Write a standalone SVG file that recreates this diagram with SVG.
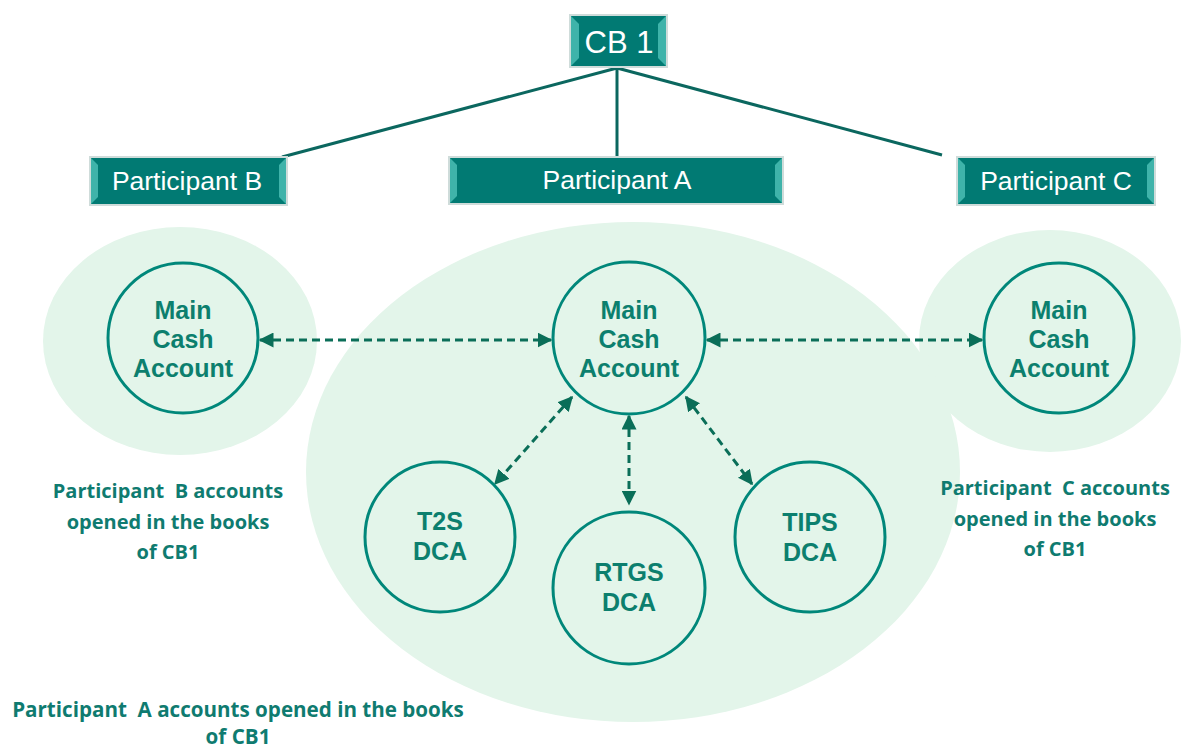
<svg xmlns="http://www.w3.org/2000/svg" width="1184" height="749" viewBox="0 0 1184 749">
<style>
.box{fill:#017a73;stroke:#cfdcda;stroke-width:2}
.bev{fill:#3fb3aa}
.btxt{font-family:"Liberation Sans",Arial,sans-serif;font-size:26.5px;fill:#ffffff;text-anchor:middle}
.ell{fill:#e3f5ea}
.circ{fill:none;stroke:#00877a;stroke-width:3}
.ctxt{font-family:"Liberation Sans",Arial,sans-serif;font-size:25px;font-weight:bold;fill:#0c7f6e;text-anchor:middle}
.cap{font-family:"Open Sans",Lato,sans-serif;font-size:20px;font-weight:bold;fill:#0f7b70;text-anchor:middle}
.tree{stroke:#0b675f;stroke-width:3;fill:none}
.dash{stroke:#0a6e58;stroke-width:3;stroke-dasharray:8 5;fill:none;marker-start:url(#ah);marker-end:url(#ah)}
</style>
<defs>
<marker id="ah" viewBox="0 0 10 10" refX="9" refY="5" markerWidth="5" markerHeight="5" orient="auto-start-reverse" markerUnits="strokeWidth">
<path d="M0,0 L10,5 L0,10 Z" fill="#0a6e58"/>
</marker>
</defs>
<rect width="1184" height="749" fill="#ffffff"/>
<g id="ellipses">
<ellipse class="ell" cx="180" cy="341" rx="137" ry="114"/>
<ellipse class="ell" cx="1050" cy="341" rx="131" ry="111"/>
<ellipse class="ell" cx="633" cy="472" rx="327" ry="250"/>
</g>
<g id="connectors">
<line class="tree" x1="617" y1="68" x2="282" y2="157"/>
<line class="tree" x1="617" y1="68" x2="617" y2="157"/>
<line class="tree" x1="617" y1="68" x2="942" y2="155"/>
<line class="dash" x1="260" y1="340" x2="551" y2="340"/>
<line class="dash" x1="707" y1="340" x2="982" y2="340"/>
<line class="dash" x1="572" y1="397" x2="495" y2="484"/>
<line class="dash" x1="629" y1="416" x2="629" y2="504"/>
<line class="dash" x1="686" y1="397" x2="752" y2="484"/>
</g>
<g id="cb1">
<rect class="box" x="570" y="15" width="97" height="52"/>
<polygon class="bev" points="571,16 579,24 579,58 571,66"/>
<polygon class="bev" points="666,16 658,24 658,58 666,66"/>
<text class="btxt" x="619" y="53" style="font-size:31px">CB 1</text>
</g>
<g id="participantB">
<rect class="box" x="90" y="157" width="197" height="48"/>
<polygon class="bev" points="91,158 98,165 98,197 91,204"/>
<polygon class="bev" points="286,158 279,165 279,197 286,204"/>
<text class="btxt" x="187" y="190">Participant B</text>
</g>
<g id="participantA">
<rect class="box" x="449" y="157" width="334" height="47"/>
<polygon class="bev" points="450,158 457,165 457,196 450,203"/>
<polygon class="bev" points="782,158 775,165 775,196 782,203"/>
<text class="btxt" x="617" y="189">Participant A</text>
</g>
<g id="participantC">
<rect class="box" x="957" y="157" width="198" height="48"/>
<polygon class="bev" points="958,158 965,165 965,197 958,204"/>
<polygon class="bev" points="1154,158 1147,165 1147,197 1154,204"/>
<text class="btxt" x="1056" y="190">Participant C</text>
</g>
<g id="mcaB">
<circle class="circ" cx="183" cy="338" r="75"/>
<text class="ctxt" x="183" y="319">Main</text>
<text class="ctxt" x="183" y="348">Cash</text>
<text class="ctxt" x="183" y="377">Account</text>
</g>
<g id="mcaA">
<circle class="circ" cx="629" cy="338" r="76"/>
<text class="ctxt" x="629" y="319">Main</text>
<text class="ctxt" x="629" y="348">Cash</text>
<text class="ctxt" x="629" y="377">Account</text>
</g>
<g id="mcaC">
<circle class="circ" cx="1059" cy="338" r="75"/>
<text class="ctxt" x="1059" y="319">Main</text>
<text class="ctxt" x="1059" y="348">Cash</text>
<text class="ctxt" x="1059" y="377">Account</text>
</g>
<g id="t2s">
<circle class="circ" cx="440" cy="537" r="75"/>
<text class="ctxt" x="440" y="530">T2S</text>
<text class="ctxt" x="440" y="560">DCA</text>
</g>
<g id="rtgs">
<circle class="circ" cx="629" cy="588" r="76"/>
<text class="ctxt" x="629" y="581">RTGS</text>
<text class="ctxt" x="629" y="611">DCA</text>
</g>
<g id="tips">
<circle class="circ" cx="810" cy="537" r="75"/>
<text class="ctxt" x="810" y="531">TIPS</text>
<text class="ctxt" x="810" y="561">DCA</text>
</g>
<g id="captions">
<text class="cap" x="168" y="498" xml:space="preserve">Participant  B accounts</text>
<text class="cap" x="168" y="529">opened in the books</text>
<text class="cap" x="168" y="559">of CB1</text>
<text class="cap" x="1055" y="495" xml:space="preserve">Participant  C accounts</text>
<text class="cap" x="1055" y="526">opened in the books</text>
<text class="cap" x="1055" y="556">of CB1</text>
<text class="cap" x="238" y="717" style="font-size:20.6px" xml:space="preserve">Participant  A accounts opened in the books</text>
<text class="cap" x="238" y="744" style="font-size:20.6px">of CB1</text>
</g>
</svg>
